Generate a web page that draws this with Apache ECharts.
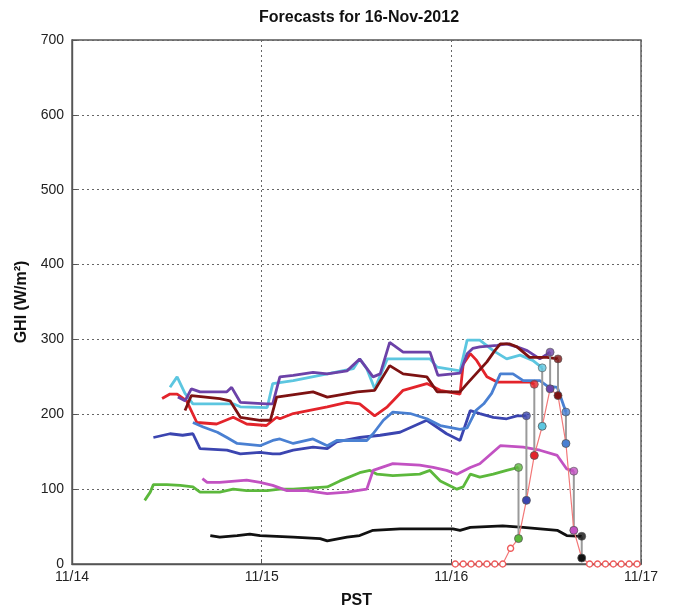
<!DOCTYPE html>
<html><head><meta charset="utf-8">
<script src="https://cdn.jsdelivr.net/npm/echarts/dist/echarts.min.js"></script>
<style>html,body{margin:0;padding:0;background:#fff}#c{width:678px;height:614px}</style>
</head><body><div id="c"></div>
<script>
// x values: hours since 11/14 00:00 PST ; y values: GHI (W/m2)
const dayLabels = ['11/14', '11/15', '11/16', '11/17'];

const green = [[9.2,85],[9.9,96],[10.3,106],[12.0,106],[13.7,105],[15.3,103],[16.2,96],[18.7,96],[20.4,100],[22.1,98],[24.7,98],[26.3,100],[28.0,100],[32.3,103],[33.9,111],[36.4,122],[37.7,125],[38.6,120],[40.6,118],[44.0,120],[45.3,125],[46.6,111],[48.7,100],[49.5,103],[50.4,120],[51.6,116],[53.3,120],[55.0,125],[56.5,129]];
const darkBlue = [[10.3,169],[12.4,174],[14.0,172],[15.3,174],[16.2,154],[19.6,152],[21.3,147],[23.8,149],[25.4,147],[26.3,147],[28.0,152],[30.5,156],[32.3,154],[33.5,163],[36.4,169],[39.0,172],[41.5,176],[44.9,192],[47.4,174],[49.1,165],[50.4,205],[51.6,201],[53.3,196],[55.0,194],[56.3,198],[57.5,198]];
const red = [[11.4,221],[12.4,227],[13.3,227],[14.5,218],[15.8,189],[18.3,187],[20.4,196],[22.1,187],[24.6,185],[25.9,196],[26.3,194],[28.0,201],[32.3,210],[34.8,216],[36.4,214],[38.3,198],[39.9,210],[41.9,232],[44.9,241],[46.6,232],[49.1,227],[49.5,267],[50.4,281],[51.2,272],[52.5,250],[53.8,243],[57.9,243],[58.5,240]];
const cyan = [[12.4,236],[13.3,250],[14.3,228],[15.3,214],[20.4,214],[21.3,210],[24.7,209],[25.4,241],[28.0,245],[32.3,254],[35.6,261],[36.4,274],[37.3,261],[38.3,234],[39.9,274],[45.3,274],[46.2,263],[49.1,258],[50.0,299],[51.6,299],[53.3,285],[55.0,274],[56.7,279],[58.3,272],[59.5,262]];
const purple = [[13.4,223],[14.3,218],[15.1,234],[16.2,230],[19.6,230],[20.2,236],[21.3,216],[24.6,214],[25.4,214],[26.3,250],[28.0,252],[30.5,256],[32.3,254],[34.8,258],[36.4,274],[38.1,250],[39.0,254],[40.2,296],[41.9,283],[45.3,283],[46.3,252],[49.1,255],[50.0,281],[50.7,288],[51.6,290],[53.8,292],[55.0,294],[56.3,290],[57.6,285],[59.2,274],[60.5,283]];
const darkRed = [[14.3,205],[15.1,225],[18.7,221],[20.0,218],[21.3,196],[23.8,192],[25.1,192],[25.9,223],[30.5,230],[32.3,223],[36.1,230],[38.3,232],[40.2,265],[41.9,254],[44.9,250],[46.2,230],[49.1,230],[50.0,241],[52.5,270],[53.5,285],[54.2,294],[55.4,294],[56.3,290],[57.9,276],[60.1,276],[61.5,274]];
const medBlue = [[15.3,189],[16.6,183],[18.4,176],[19.6,169],[20.9,161],[23.8,158],[25.4,165],[26.3,167],[28.0,161],[30.5,167],[32.3,158],[33.5,165],[37.3,165],[38.1,174],[39.4,192],[40.6,203],[42.8,201],[44.9,194],[46.6,185],[49.1,180],[50.0,182],[51.1,205],[52.1,214],[53.1,228],[54.2,254],[55.8,254],[57.1,245],[59.2,245],[60.1,238],[61.4,236],[62.5,203]];
const magenta = [[16.5,114],[17.1,109],[18.7,109],[22.1,112],[23.8,109],[25.4,105],[27.2,98],[29.7,98],[32.3,94],[34.8,96],[37.3,100],[38.1,125],[40.6,134],[44.0,132],[45.7,129],[47.4,125],[48.7,120],[50.4,129],[51.6,134],[54.2,158],[57.1,156],[59.2,152],[61.4,145],[62.6,127],[63.5,124]];
const black = [[17.5,38],[18.7,36],[20.9,38],[22.5,40],[23.8,38],[28.0,36],[31.4,34],[32.3,31],[34.8,36],[36.4,38],[38.1,45],[41.5,47],[48.2,47],[49.1,45],[50.4,49],[54.5,51],[57.1,49],[61.4,45],[62.6,38],[64.5,37]];

const obsHours = [48.5,49.5,50.5,51.5,52.5,53.5,54.5,55.5,56.5,57.5,58.5,59.5,60.5,61.5,62.5,63.5,64.5,65.5,66.5,67.5,68.5,69.5,70.5,71.5];
const obsGHI   = [0,0,0,0,0,0,0,21,34,85,145,184,234,225,161,45,8,0,0,0,0,0,0,0];

const forecasts = [
  {data: green,    color: '#5cb83c'},
  {data: darkBlue, color: '#3b45b0'},
  {data: red,      color: '#e3242b'},
  {data: cyan,     color: '#5cc6e0'},
  {data: purple,   color: '#6c42a8'},
  {data: darkRed,  color: '#7d1212'},
  {data: medBlue,  color: '#4a80d2'},
  {data: magenta,  color: '#c252c2'},
  {data: black,    color: '#111111'}
];

const lastOf = a => a[a.length - 1];
const obsAt = h => obsGHI[obsHours.findIndex(x => Math.abs(x - h) < 0.01)];

const series = [];
forecasts.forEach(f => {
  series.push({type: 'line', data: f.data, showSymbol: false, symbol: 'none',
    lineStyle: {color: f.color, width: 2.8}, z: 2, silent: true});
});
forecasts.forEach(f => {
  const e = lastOf(f.data);
  series.push({type: 'line', data: [e, [e[0], obsAt(e[0])]], symbol: 'none',
    lineStyle: {color: '#9a9a9a', width: 2}, z: 3, silent: true});
});
series.push({
  type: 'line', z: 4, silent: true,
  data: obsHours.map((h, i) => {
    const f = forecasts.find(ff => Math.abs(lastOf(ff.data)[0] - h) < 0.01);
    return f
      ? {value: [h, obsGHI[i]], symbolSize: 8, itemStyle: {color: f.color, borderColor: '#555', borderWidth: 0.8}}
      : {value: [h, obsGHI[i]], symbolSize: 6, itemStyle: {color: '#fff', borderColor: '#ee5a5a', borderWidth: 1.4}};
  }),
  symbol: 'circle', showSymbol: true,
  lineStyle: {color: '#f27878', width: 1.2}
});
series.push({
  type: 'scatter', z: 5, silent: true, symbolSize: 8,
  data: forecasts.map(f => ({value: lastOf(f.data), itemStyle: {color: f.color, borderColor: '#555', borderWidth: 0.8}}))
});

const font = 'Liberation Sans';
const chart = echarts.init(document.getElementById('c'), null, {renderer: 'canvas'});
chart.setOption({
  animation: false,
  backgroundColor: '#fff',
  title: {text: 'Forecasts for 16-Nov-2012', left: 354, top: 5, textAlign: 'center',
    textStyle: {fontFamily: font, fontWeight: 'bold', fontSize: 16, color: '#111'}},
  grid: {left: 72, right: 37, top: 40, bottom: 50, show: true, borderColor: '#555', borderWidth: 1.4, backgroundColor: '#fff'},
  xAxis: {type: 'value', min: 0, max: 72, interval: 24,
    name: 'PST', nameLocation: 'middle', nameGap: 29,
    nameTextStyle: {fontFamily: font, fontWeight: 'bold', fontSize: 16, color: '#111'},
    axisLine: {lineStyle: {color: '#555', width: 1.4}},
    axisTick: {inside: true, length: 5, lineStyle: {color: '#555'}},
    axisLabel: {formatter: v => dayLabels[Math.round(v / 24)], fontFamily: font, fontSize: 14, color: '#222', margin: 6},
    splitLine: {show: true, lineStyle: {color: '#666', type: [2, 3], width: 1}}},
  yAxis: {type: 'value', min: 0, max: 700, interval: 100,
    name: 'GHI (W/m²)', nameLocation: 'middle', nameGap: 33,
    nameTextStyle: {fontFamily: font, fontWeight: 'bold', fontSize: 16, color: '#111'},
    axisLine: {lineStyle: {color: '#555', width: 1.4}},
    axisTick: {inside: true, length: 5, lineStyle: {color: '#555'}},
    axisLabel: {fontFamily: font, fontSize: 14, color: '#222', margin: 8},
    splitLine: {show: true, lineStyle: {color: '#666', type: [2, 3], width: 1}}},
  series: series
});
</script></body></html>
